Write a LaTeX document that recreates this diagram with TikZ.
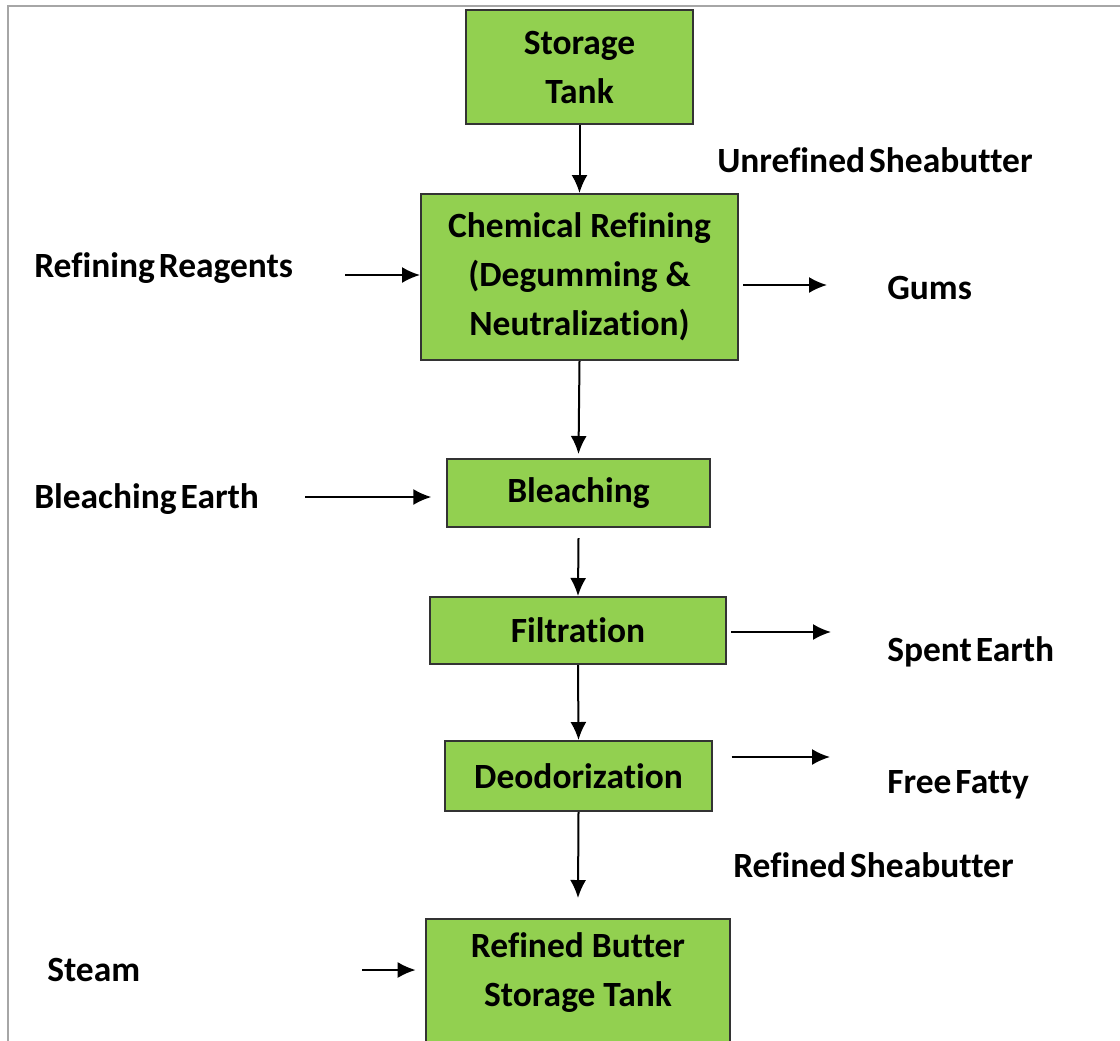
\documentclass[tikz,border=0pt]{standalone}
\usepackage{fontspec}
\setmainfont{Carlito}[Ligatures=NoCommon]
\usetikzlibrary{arrows.meta}
\definecolor{boxgreen}{HTML}{92D050}
\definecolor{framegray}{HTML}{A6A6A6}
\newcommand\narrowspaces{\spaceskip=3pt\relax}
\begin{document}
\begin{tikzpicture}[x=0.75pt,y=-0.75pt,
  procbox/.style={draw=black!80, line width=1.5pt, fill=boxgreen, align=center, inner sep=0pt,
    font=\fontsize{26.6pt}{36.75pt}\selectfont\bfseries},
  boxtext/.style={align=center, inner sep=0pt, font=\fontsize{26.6pt}{36.75pt}\selectfont\bfseries},
  lbl/.style={anchor=base west, inner sep=0pt, font=\fontsize{26.6pt}{30pt}\selectfont\bfseries\narrowspaces},
  flow/.style={line width=1.5pt, -{Latex[length=13.5pt,width=12pt]}}]
\useasboundingbox (0,0) rectangle (1120,1040);
\clip (0,0) rectangle (1120,1040);
\fill[white] (0,0) rectangle (1120,1040);
\draw[framegray, line width=1.5pt] (8,1045) -- (8,6) -- (1125,6);

% process boxes
\node[procbox, minimum width=170.25pt, minimum height=85.5pt] (st) at (579.5,67) {Storage\\Tank};
\node[procbox, minimum width=237.75pt, minimum height=124.5pt] (chem) at (579.5,277) {Chemical Refining\\(Degumming \&\\Neutralization)};
\node[procbox, minimum width=197.25pt, minimum height=51pt] (bl) at (578.5,493) {Bleaching};
\node[procbox, minimum width=222pt, minimum height=50.25pt] (fi) at (578,630.5) {Filtration};
\node[procbox, minimum width=200.25pt, minimum height=52.5pt] (de) at (578.5,776) {Deodorization};
\node[procbox, minimum width=228pt, minimum height=123pt] (rb) at (578,1001) {};
\node[boxtext] (rbt) at (578,972.5) {Refined Butter\\Storage Tank};

% labels
\node[lbl] (unref) at (717,172) {Unrefined Sheabutter};
\node[lbl] (reag) at (34,277) {Refining Reagents};
\node[lbl] (gums) at (887,299) {Gums};
\node[lbl] (bearth) at (34,508) {Bleaching Earth};
\node[lbl] (spent) at (887,661) {Spent Earth};
\node[lbl] (ffa) at (887,793) {Free Fatty};
\node[lbl] (refs) at (733,877) {Refined Sheabutter};
\node[lbl] (steam) at (47,981) {Steam};

% free ends
\coordinate (ra) at (345,275);
\coordinate (ga) at (827,285);
\coordinate (bea) at (305,497);
\coordinate (sea) at (831,632);
\coordinate (ffe) at (830,757);
\coordinate (sta) at (362,970);

% main flow
\draw[flow] (st) -- (chem);
\draw[flow] (chem.south) -- ([yshift=3pt]bl.north);
\draw[flow] ([yshift=-7.5pt]bl.south) -- (fi.north);
\draw[flow] (fi.south) -- (de.north);
\draw[flow] (de.south) -- ([yshift=15pt]rb.north);

% side streams
\draw[flow] (ra) -- (ra -| chem.west);
\draw[flow] ([xshift=3pt]chem.east |- ga) -- (ga);
\draw[flow] (bea) -- ([xshift=-11pt]bl.west |- bea);
\draw[flow] ([xshift=3pt]fi.east |- sea) -- (sea);
\draw[flow] ([xshift=14pt]de.east |- ffe) -- (ffe);
\draw[flow] (sta) -- ([xshift=-7pt]rb.west |- sta);
\end{tikzpicture}
\end{document}
